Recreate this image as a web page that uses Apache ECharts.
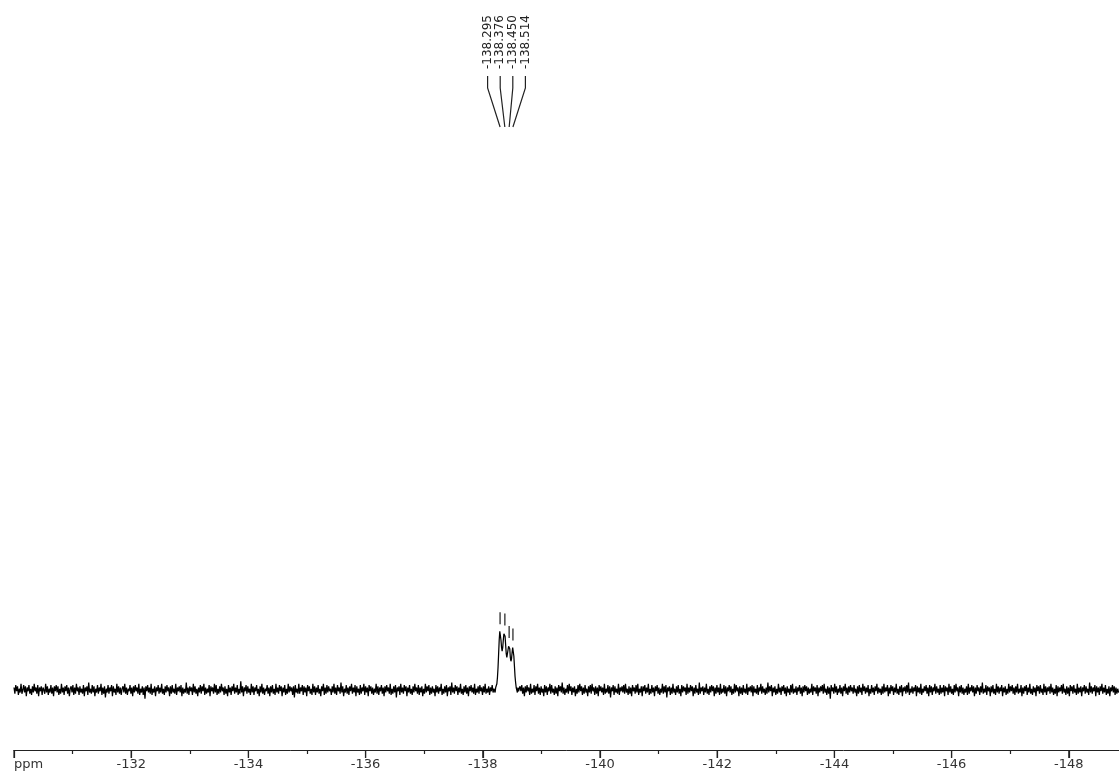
<!DOCTYPE html>
<html>
<head>
<meta charset="utf-8">
<title>19F NMR spectrum</title>
<script src="https://cdn.jsdelivr.net/npm/echarts@6/dist/echarts.min.js"></script>
<style>
  html, body { margin: 0; padding: 0; background: #fff; }
  #chart { width: 1119px; height: 775px; }
</style>
</head>
<body>
<div id="chart"></div>
<script>
// Axis scale (ppm): runs high-to-low from left to right; the plotted trace
// ends at -148.85, which is where the page's right edge falls
const ppmLeft = -130;
const ppmAxisEnd = -150;
const ppmMajorStep = 2;

// Major tick positions and their labels
const majorTickValues = [-130, -132, -134, -136, -138, -140, -142, -144, -146, -148];
const tickValues = [-132, -134, -136, -138, -140, -142, -144, -146, -148];
const tickLabels = ['-132', '-134', '-136', '-138', '-140', '-142', '-144', '-146', '-148'];
const unitLabel = 'ppm';

// Baseline region up to the multiplet (sampled every 0.015 ppm from -130.000)
const noiseStep = 0.015;
const noiseLeftStart = -130.00;
const noiseLeft = [
  2,-3,4,-1,3,-4,1,-2,5,-3, 0,4,-2,3,-5,2,-1,4,-3,1, -4,3,-2,5,-1,2,-3,4,-5,2,
  -1,3,-4,2,0,-3,5,-2,3,-4, 1,-2,4,-3,2,-5,3,-1,4,-2, 3,-4,1,-3,5,-2,2,-4,3,-1,
  4,-3,2,-5,1,3,-2,4,-4,2, -3,5,-1,2,-4,3,-2,1,-3,4, -5,2,-1,3,-4,6,-2,1,-3,4,
  -2,3,-5,1,-2,4,-3,2,-1,5, -4,2,-3,3,-6,1,-2,4,-3,2, -1,4,-5,3,-2,1,-4,5,-2,3,
  -3,2,-4,1,3,-2,5,-3,2,-4, 1,-1,4,-3,2,-5,3,-2,4,-1, 2,-3,5,-4,1,-2,3,-4,2,-7,
  3,-1,4,-2,2,-3,5,-4,1,-2, 3,-5,2,-1,4,-3,2,-2,5,-3, 1,-4,3,-2,4,-1,2,-5,3,-3,
  4,-2,1,-3,5,-4,2,-1,3,-2, 4,-5,2,-3,1,-2,6,-3,2,-4, 3,-1,2,-4,5,-2,3,-3,1,-5,
  2,-2,4,-3,3,-1,5,-4,2,-3, 1,-2,4,-5,3,-1,2,-3,5,-2, 4,-4,1,-3,3,-2,5,-1,2,-4,
  3,-3,1,-5,4,-2,2,-4,3,-1, 5,-3,2,-2,4,-4,1,-3,7,-2, 3,-5,2,-1,4,-3,3,-2,1,-4,
  5,-2,3,-4,2,-1,4,-3,1,-5, 3,-2,5,-3,2,-4,1,-1,4,-3, 2,-5,3,-2,4,-3,1,-4,5,-2,
  2,-3,4,-1,3,-5,2,-2,4,-4, 1,-3,5,-2,3,-1,2,-4,3,-6, 4,-2,1,-3,5,-3,2,-1,4,-4,
  3,-2,2,-5,4,-1,3,-3,1,-4, 5,-2,3,-4,2,-2,4,-3,1,-5, 3,-1,5,-4,2,-3,4,-2,3,-1,
  1,-4,3,-2,5,-3,2,-4,4,-1, 2,-3,6,-2,3,-5,1,-2,4,-3, 2,-4,3,-1,5,-3,2,-2,4,-5,
  3,-2,1,-4,4,-3,2,-1,5,-4, 3,-2,2,-5,4,-1,3,-3,2,-4, 1,-2,5,-3,3,-4,2,-1,4,-3,
  2,-5,3,-2,4,-1,2,-3,5,-4, 1,-3,3,-2,4,-6,2,-1,3,-4, 5,-2,2,-3,4,-1,3,-5,2,-2,
  4,-3,1,-4,3,-2,5,-1,2,-3, 4,-4,2,-2,3,-5,1,-3,5,-2, 3,-1,4,-4,2,-3,3,-2,1,-5,
  4,-2,3,-3,2,-1,5,-4,1,-3, 3,-2,4,-5,2,-1,3,-4,6,-2, 2,-3,4,-1,3,-4,2,-2,5,-3,
  1,-4,3,-2,4,-3,2,-5,3,-1, 4,-2,2,-3,5,-4,1,-2,3,-3, 4,-1,2,-4,3,-2,5,-3,1,-2,
  3,-4,2,-1,4,-2,1
];

// Multiplet region (sampled every 0.01 ppm from -138.20)
const multipletStart = -138.20;
const multipletStep = 0.01;
const multiplet = [
  1,-2,2,2,5,10,18,29,40,47,
  46,40,34,31,34,40,45,46,43,36,
  29,26,27,32,35,36,33,26,23,25,
  30,34,33,27,19,11,6,2,1,-2,
  2,-1
];

// Baseline region after the multiplet (sampled every 0.015 ppm from -138.62)
const noiseRightStart = -138.62;
const noiseRight = [
  -2,3,-1,4,-3,2,-5,3,-2,4, -1,2,-4,5,-3,1,-2,4,-4,3, -1,5,-3,2,-4,3,-2,1,-5,4,
  -2,3,-4,2,-1,5,-3,4,-2,1, -4,3,-3,2,-5,4,-1,3,-2,6, -3,2,-4,1,-2,4,-3,5,-1,3,
  -4,2,-2,3,-5,1,-3,4,-2,5, -1,3,-4,2,-3,4,-2,1,-5,3, -2,4,-3,5,-1,2,-4,3,-3,2,
  -5,4,-1,3,-2,2,-4,5,-3,1, -2,4,-3,3,-6,2,-1,4,-4,3, -2,1,-3,5,-4,2,-1,3,-2,4,
  -3,5,-2,1,-4,3,-3,2,-5,4, -1,2,-3,4,-2,5,-4,1,-2,3, -5,3,-1,4,-3,2,-2,5,-4,1,
  -3,4,-2,2,-5,3,-1,4,-3,2, -4,1,-2,5,-3,3,-2,4,-6,2, -1,3,-4,2,-3,5,-2,1,-4,3,
  -2,4,-3,1,-5,4,-2,3,-1,2, -4,5,-3,2,-2,4,-1,3,-5,2, -3,4,-2,1,-4,6,-3,2,-1,3,
  -4,2,-2,5,-3,1,-4,3,-2,4, -1,3,-5,2,-3,4,-2,2,-4,5, -3,1,-2,4,-3,3,-5,2,-1,4,
  -2,3,-4,1,-3,5,-2,4,-1,2, -5,3,-3,2,-4,4,-2,1,-3,5, -4,2,-1,3,-2,4,-5,3,-2,1,
  -3,4,-4,2,-1,5,-3,3,-2,1, -4,2,-3,6,-2,3,-1,4,-5,2, -2,3,-4,1,-3,5,-2,2,-4,3,
  -1,4,-3,2,-5,3,-2,1,-4,4, -2,5,-3,1,-2,3,-4,2,-1,4, -3,2,-5,3,-2,4,-1,3,-4,2,
  -3,1,-2,5,-4,3,-1,2,-3,4, -5,2,-2,3,-1,4,-3,5,-2,1, -4,3,-3,2,-7,4,-1,2,-3,5,
  -2,3,-4,1,-2,4,-3,2,-5,3, -1,5,-3,2,-4,3,-2,4,-1,2, -3,4,-2,1,-5,3,-3,4,-2,2,
  -4,5,-1,3,-3,2,-2,4,-5,1, -3,4,-2,2,-4,3,-1,5,-3,2, -2,1,-4,3,-3,5,-2,2,-1,4,
  -5,2,-3,4,-1,3,-4,2,-2,5, -3,1,-4,3,-2,4,-5,2,-1,3, -3,4,-2,6,-4,1,-2,3,-3,2,
  -1,4,-5,3,-2,2,-3,5,-4,1, -2,3,-1,4,-3,2,-5,4,-2,3, -4,2,-1,5,-3,3,-2,1,-4,4,
  -3,2,-2,4,-5,3,-1,2,-4,5, -2,3,-3,1,-4,4,-2,5,-1,2, -5,3,-2,4,-3,2,-4,1,-2,3,
  -4,5,-3,2,-1,4,-2,3,-5,2, -3,4,-1,2,-4,3,-2,6,-3,1, -2,4,-4,3,-1,2,-5,3,-2,4,
  -3,1,-4,5,-2,3,-3,2,-1,4, -5,2,-2,3,-4,1,-3,5,-2,3, -1,4,-3,2,-4,3,-2,5,-3,1,
  -2,4,-5,2,-3,3,-1,4,-4,2, -2,5,-3,1,-4,3,-2,2,-5,4, -1,3,-3,4,-2,1,-4,5,-2,3,
  -4,2,-1,3,-3,5,-2,2,-4,1, -3,4,-5,3,-2,2,-1,4,-3,5, -2,1,-4,3,-3,2,-5,4,-1,3,
  -3,4,-2,1,-4,5,-3,2,-2,3, -5,2,-1,4,-3,3,-2,1,-4,6, -2,3,-3,2,-1,4,-5,3,-2,2,
  -4,3,-1,5,-3,2,-2,4,-4,1, -3,3,-5,2,-1,4,-2,3,-4,2, -3,1,-2
];

// Picked peak positions (ppm)
const peakShifts = [-138.295, -138.376, -138.450, -138.514];

// ---- build the [ppm, intensity] trace ----
function segment(start, step, values) {
  return values.map((v, i) => [+(start - i * step).toFixed(3), v]);
}
const spectrum = []
  .concat(segment(noiseLeftStart, noiseStep, noiseLeft))
  .concat(segment(multipletStart, multipletStep, multiplet))
  .concat(segment(noiseRightStart, noiseStep, noiseRight));

// highest intensity within a small window around a shift
function localTop(shift) {
  let best = -Infinity;
  spectrum.forEach(([x, y]) => {
    if (Math.abs(x - shift) <= 0.012 && y > best) best = y;
  });
  return best;
}

const FONT = '"DejaVu Sans", Verdana, sans-serif';
const INK = '#222';
const Y_MIN = -48, Y_MAX = 552;

// the -150 end of the axis lies past the right edge of the page (58.6 px per ppm)
const PX_PER_PPM = 58.6;
const gridRight = -Math.round((-148.85 - ppmAxisEnd) * PX_PER_PPM);

const chart = echarts.init(document.getElementById('chart'), null, { renderer: 'canvas' });

chart.setOption({
  animation: false,
  backgroundColor: '#fff',
  grid: { left: 14, right: gridRight, top: 0, bottom: 25, outerBoundsMode: 'none', containLabel: false },
  xAxis: [
    {
      type: 'value', min: ppmAxisEnd, max: ppmLeft, interval: ppmMajorStep, inverse: true, position: 'bottom',
      axisLine: { show: true, onZero: false, lineStyle: { color: INK, width: 1 } },
      axisTick: { show: true, length: 8, lineStyle: { color: INK, width: 1.2 } },
      minorTick: { show: true, splitNumber: 2, length: 4, lineStyle: { color: INK, width: 1.2 } },
      axisLabel: {
        showMinLabel: true, showMaxLabel: true,
        formatter: v => {
          const k = tickValues.indexOf(Math.round(v));
          return k >= 0 ? tickLabels[k] : '';
        },
        margin: 8, color: '#333', fontSize: 13, fontFamily: FONT
      },
      splitLine: { show: false },
      minorSplitLine: { show: false }
    },
    {
      // carries only the unit caption at the left end of the scale
      type: 'value', min: ppmAxisEnd, max: ppmLeft, inverse: true, position: 'bottom',
      axisLine: { show: false, onZero: false },
      axisTick: { show: false },
      axisLabel: {
        customValues: [ppmLeft],
        formatter: () => unitLabel,
        align: 'left', margin: 8, color: '#333', fontSize: 13, fontFamily: FONT
      },
      splitLine: { show: false }
    }
  ],
  yAxis: { type: 'value', min: Y_MIN, max: Y_MAX, show: false },
  series: [
    {
      type: 'line',
      xAxisIndex: 0,
      data: spectrum,
      showSymbol: false,
      sampling: null,
      lineStyle: { color: '#000', width: 1.25 },
      silent: true
    },
    {
      // long marks under the scale at every labelled ppm value
      type: 'custom',
      xAxisIndex: 0,
      clip: false,
      silent: true,
      data: majorTickValues.map(v => [v, Y_MIN]),
      renderItem(params, api) {
        const p = api.coord([api.value(0), Y_MIN]);
        return {
          type: 'line',
          shape: { x1: p[0], y1: p[1], x2: p[0], y2: p[1] + 8 },
          style: { stroke: INK, lineWidth: 1.2 }
        };
      }
    },
    {
      // peak picking: rotated shift labels, leader lines and marks over each peak
      type: 'custom',
      xAxisIndex: 0,
      clip: false,
      silent: true,
      data: peakShifts.map(s => [s, 0]),
      renderItem(params, api) {
        const i = params.dataIndex;
        const shift = peakShifts[i];
        const xs = peakShifts.map(s => api.coord([s, 0])[0]);
        const px = xs[i];
        const mid = (xs[0] + xs[xs.length - 1]) / 2;
        const slot = mid + (i - (peakShifts.length - 1) / 2) * 12.6;
        const yTop = api.coord([shift, localTop(shift)])[1];
        return {
          type: 'group',
          children: [
            {
              type: 'text', x: slot, y: 69, rotation: Math.PI / 2,
              style: { text: shift.toFixed(3), font: '12px ' + FONT, fill: INK, align: 'left', verticalAlign: 'middle' }
            },
            {
              type: 'polyline',
              shape: { points: [[slot, 76], [slot, 88], [px, 127]] },
              style: { stroke: INK, lineWidth: 1.2, fill: null }
            },
            {
              type: 'line',
              shape: { x1: px, y1: yTop - 19, x2: px, y2: yTop - 7 },
              style: { stroke: '#555', lineWidth: 1.6 }
            }
          ]
        };
      }
    }
  ]
});
</script>
</body>
</html>
